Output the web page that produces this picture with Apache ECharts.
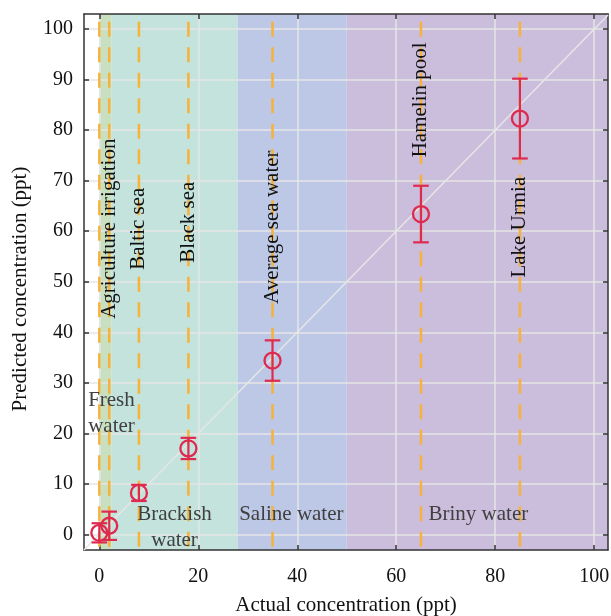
<!DOCTYPE html>
<html>
<head>
<meta charset="utf-8">
<script src="https://cdn.jsdelivr.net/npm/echarts@6/dist/echarts.min.js"></script>
<style>
html, body { margin: 0; padding: 0; background: #fff; }
#chart { width: 611px; height: 616px; }
</style>
</head>
<body>
<div id="chart"></div>
<script>
// measured vs predicted salinity, with std error bars
const actual = [0, 2, 8, 18, 35, 65, 85];
const predicted = [0.3, 1.7, 8.2, 17.0, 34.4, 63.4, 82.3];
const errors = [1.9, 2.8, 1.6, 2.1, 4.0, 5.6, 7.9];

// water bodies (dashed reference lines)
const siteNames = ['Agriculture irrigation', 'Baltic sea', 'Black sea', 'Average sea water', 'Hamelin pool', 'Lake Urmia'];
const siteX = [2, 8, 18, 35, 65, 85];

// salinity classes
const zoneNames = ['Fresh\nwater', 'Brackish\nwater', 'Saline water', 'Briny water'];
const zoneStart = [0, 2.5, 28, 50];
const zoneEnd = [2.5, 28, 50, 103];

const xTicks = [0, 20, 40, 60, 80, 100];
const yTicks = [0, 10, 20, 30, 40, 50, 60, 70, 80, 90, 100];

const xMin = -3.1, xMax = 102.8, yMin = -3.1, yMax = 103;
const FONT = '"Liberation Serif", "Times New Roman", serif';
const zoneColors = ['#c8e0bf', '#c3e3dc', '#bcc8e5', '#cbbddc'];
const zoneLabelPos = [[2.45, 24], [15.2, 1.3], [38.8, 3.9], [76.6, 3.9]];
const siteLabelY = [60.5, 60.5, 61.8, 60.8, 86, 60.8];
const RED = '#de2a50';

const chart = echarts.init(document.getElementById('chart'));

const axisText = { fontFamily: FONT, fontSize: 20, color: '#111' };

const option = {
  animation: false,
  grid: { left: 84, right: 3, top: 14, bottom: 66, outerBoundsMode: 'none' },
  xAxis: [
    {
      type: 'value', min: xMin, max: xMax,
      name: 'Actual concentration (ppt)', nameLocation: 'middle', nameGap: 45,
      nameTextStyle: { fontFamily: FONT, fontSize: 21, color: '#111' },
      axisLine: { onZero: false, lineStyle: { color: '#333', width: 1.5 } },
      axisTick: { inside: true, length: 5, customValues: xTicks, lineStyle: { color: '#333', width: 1.5 } },
      axisLabel: Object.assign({ customValues: xTicks, margin: 17 }, axisText),
      splitLine: { show: true, lineStyle: { color: '#e6e6e6', width: 1.5 } }
    },
    {
      type: 'value', min: xMin, max: xMax, position: 'top',
      axisLine: { onZero: false, lineStyle: { color: '#333', width: 1.5 } },
      axisTick: { inside: true, length: 5, customValues: xTicks, lineStyle: { color: '#333', width: 1.5 } },
      axisLabel: { show: false },
      splitLine: { show: false }
    }
  ],
  yAxis: [
    {
      type: 'value', min: yMin, max: yMax,
      name: 'Predicted concentration (ppt)', nameLocation: 'middle', nameGap: 53,
      nameTextStyle: { fontFamily: FONT, fontSize: 21, color: '#111', padding: [0, 0, 0, -14] },
      axisLine: { show: true, onZero: false, lineStyle: { color: '#333', width: 1.5 } },
      axisTick: { show: true, inside: true, length: 5, customValues: yTicks, lineStyle: { color: '#333', width: 1.5 } },
      axisLabel: Object.assign({ customValues: yTicks, margin: 11 }, axisText),
      splitLine: { show: true, lineStyle: { color: '#e6e6e6', width: 1.5 } }
    },
    {
      type: 'value', min: yMin, max: yMax, position: 'right',
      axisLine: { show: true, onZero: false, lineStyle: { color: '#333', width: 1.5 } },
      axisTick: { show: true, inside: true, length: 5, customValues: yTicks, lineStyle: { color: '#333', width: 1.5 } },
      axisLabel: { show: false },
      splitLine: { show: false }
    }
  ],
  series: [
    {
      // background bands for salinity classes
      type: 'custom', z: -1, silent: true,
      data: zoneStart.map((s, i) => [s, zoneEnd[i]]),
      renderItem: function (params, api) {
        const p1 = api.coord([api.value(0), yMax]);
        const p2 = api.coord([Math.min(api.value(1), xMax), yMin]);
        return {
          type: 'rect',
          shape: { x: p1[0], y: p1[1], width: p2[0] - p1[0], height: p2[1] - p1[1] },
          style: { fill: zoneColors[params.dataIndex] }
        };
      }
    },
    {
      // 1:1 line
      type: 'line', z: 1, silent: true, symbol: 'none',
      data: [[xMin, xMin], [xMax, xMax]],
      lineStyle: { color: '#e6e6e6', width: 1.5 }
    },
    {
      // dashed lines at each measured concentration
      type: 'custom', z: 2, silent: true,
      data: actual.map(v => [v]),
      renderItem: function (params, api) {
        const top = api.coord([api.value(0), yMax]);
        const bot = api.coord([api.value(0), yMin]);
        return {
          type: 'line',
          shape: { x1: top[0], y1: top[1], x2: bot[0], y2: bot[1] },
          style: { stroke: '#f6b23a', lineWidth: 2.5, lineDash: [15, 10.5], lineDashOffset: 17.8 }
        };
      }
    },
    {
      // zone names
      type: 'custom', z: 3, silent: true,
      data: zoneNames.map((n, i) => [zoneLabelPos[i][0], zoneLabelPos[i][1]]),
      renderItem: function (params, api) {
        const p = api.coord([api.value(0), api.value(1)]);
        return {
          type: 'text', x: p[0], y: p[1],
          style: {
            text: zoneNames[params.dataIndex], fill: '#404040',
            font: '21px ' + FONT, lineHeight: 26,
            align: 'center', verticalAlign: 'middle'
          }
        };
      }
    },
    {
      // water body names, rotated
      type: 'custom', z: 3, silent: true,
      data: siteX.map((x, i) => [x, siteLabelY[i]]),
      renderItem: function (params, api) {
        const p = api.coord([api.value(0), api.value(1)]);
        return {
          type: 'text', x: p[0], y: p[1], rotation: Math.PI / 2,
          style: {
            text: siteNames[params.dataIndex], fill: '#111',
            font: '21px ' + FONT,
            align: 'center', verticalAlign: 'middle'
          }
        };
      }
    },
    {
      // error bars
      type: 'custom', z: 4, silent: true,
      data: actual.map((x, i) => [x, predicted[i] - errors[i], predicted[i] + errors[i]]),
      renderItem: function (params, api) {
        const lo = api.coord([api.value(0), api.value(1)]);
        const hi = api.coord([api.value(0), api.value(2)]);
        const w = 7.8;
        const st = { stroke: RED, lineWidth: 2.2 };
        return {
          type: 'group',
          children: [
            { type: 'line', shape: { x1: lo[0], y1: lo[1], x2: hi[0], y2: hi[1] }, style: st },
            { type: 'line', shape: { x1: lo[0] - w, y1: lo[1], x2: lo[0] + w, y2: lo[1] }, style: st },
            { type: 'line', shape: { x1: hi[0] - w, y1: hi[1], x2: hi[0] + w, y2: hi[1] }, style: st }
          ]
        };
      }
    },
    {
      type: 'scatter', z: 5,
      data: actual.map((x, i) => [x, predicted[i]]),
      symbol: 'circle', symbolSize: 16,
      itemStyle: { color: 'rgba(0,0,0,0)', borderColor: RED, borderWidth: 2.3, opacity: 1 }
    }
  ]
};

chart.setOption(option);
</script>
</body>
</html>
